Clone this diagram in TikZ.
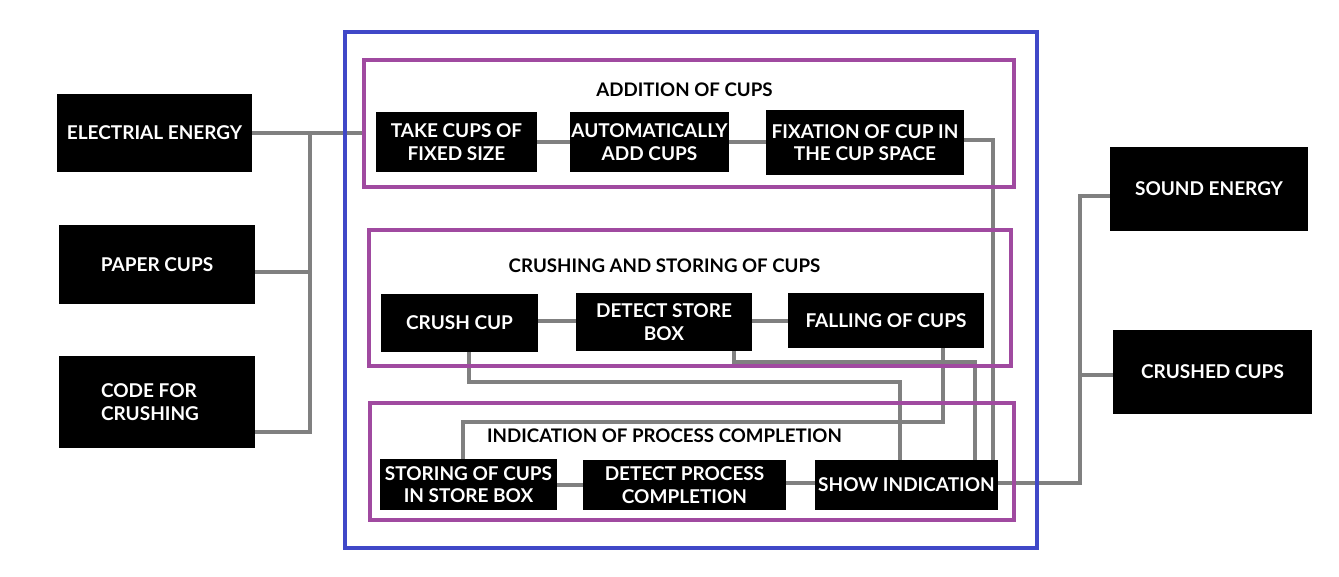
\documentclass[tikz,border=0pt]{standalone}
\usepackage{fontspec}
\setmainfont{Lato}
\usetikzlibrary{backgrounds}
\definecolor{frameblue}{RGB}{64,72,200}
\definecolor{framepurple}{RGB}{160,74,160}
\definecolor{conngray}{RGB}{128,128,128}
\begin{document}
\begin{tikzpicture}[x=1pt,y=-1pt,
  blk/.style={fill=black,text=white,inner sep=0pt,align=center,font=\bfseries\fontsize{19}{22.5}\selectfont},
  frm/.style={draw=framepurple,line width=4pt,inner sep=0pt},
  conn/.style={draw=conngray,line width=4pt},
  ttl/.style={font=\bfseries\fontsize{18.7}{20}\selectfont,inner sep=0pt,text=black}]
\useasboundingbox (0,0) rectangle (1339,576);

% outer and group frames
\node[draw=frameblue,line width=4pt,minimum width=692pt,minimum height=516pt] (outer) at (691,290) {};
\node[frm,minimum width=650pt,minimum height=127pt] (f1) at (689,123.5) {};
\node[frm,minimum width=642pt,minimum height=136pt] (f2) at (690,298) {};
\node[frm,minimum width=644pt,minimum height=117pt] (f3) at (692,461.5) {};

\node[ttl] (t1) at (684.5,90) {ADDITION OF CUPS};
\node[ttl] (t2) at (664.5,266) {CRUSHING AND STORING OF CUPS};
\node[ttl] (t3) at (664.5,436) {INDICATION OF PROCESS COMPLETION};

% left inputs
\node[blk,minimum width=195pt,minimum height=78pt] (ee) at (154.5,133) {ELECTRIAL ENERGY};
\node[blk,minimum width=196pt,minimum height=79pt] (pc) at (157,264.5) {PAPER CUPS};
\node[blk,minimum width=196pt,minimum height=92pt,align=left] (cfc) at (157,402) {\hspace*{-14pt}CODE FOR\\\hspace*{-14pt}CRUSHING};

% right outputs
\node[blk,minimum width=198pt,minimum height=84pt] (se) at (1209,189) {SOUND ENERGY};
\node[blk,minimum width=199pt,minimum height=84pt] (cc) at (1212.5,372) {CRUSHED CUPS};

% row 1
\node[blk,minimum width=161pt,minimum height=60pt] (take) at (456.5,142) {TAKE CUPS OF\\FIXED SIZE};
\node[blk,minimum width=159pt,minimum height=60pt] (auto) at (649.5,142) {AUTOMATICALLY\\ADD CUPS};
\node[blk,minimum width=198pt,minimum height=65pt] (fix) at (865,142.5) {FIXATION OF CUP IN\\THE CUP SPACE};

% row 2
\node[blk,minimum width=157pt,minimum height=58pt] (crush) at (459.5,323) {CRUSH CUP};
\node[blk,minimum width=176pt,minimum height=58pt] (dsb) at (664,322) {DETECT STORE\\BOX};
\node[blk,minimum width=196pt,minimum height=55pt] (fall) at (886,320.5) {FALLING OF CUPS};

% row 3
\node[blk,minimum width=177pt,minimum height=51pt] (stor) at (468.5,484.5) {STORING OF CUPS\\IN STORE BOX};
\node[blk,minimum width=203pt,minimum height=50pt] (dpc) at (684.5,485) {DETECT PROCESS\\COMPLETION};
\node[blk,minimum width=183pt,minimum height=50pt] (show) at (906.5,485) {SHOW INDICATION};

\coordinate (jl) at (310,133);
\coordinate (jr) at (1080,196);
\coordinate (ccw) at ([yshift=-3pt]cc.west);

\begin{scope}[on background layer]
  % inputs
  \draw[conn] (ee.east) -- (f1.west |- ee.east);
  \draw[conn] ([yshift=-7.5pt]pc.east) -| (jl);
  \draw[conn] ([yshift=-30pt]cfc.east) -| (jl);
  % outputs
  \draw[conn] ([yshift=2pt]show.east) -| (jr) -- ([yshift=-7pt]se.west);
  \draw[conn] (ccw) -- (ccw -| jr);
  % rows
  \draw[conn] (take.east) -- (auto.west |- take.east);
  \draw[conn] (auto.east) -- (fix.west |- auto.east);
  \draw[conn] ([yshift=2pt]crush.east) -- ([yshift=2pt]crush.east -| dsb.west);
  \draw[conn] ([yshift=1pt]dsb.east) -- ([yshift=1pt]dsb.east -| fall.west);
  \draw[conn] (stor.east) -- (dpc.west |- stor.east);
  \draw[conn] ([yshift=2pt]dpc.east) -- ([yshift=2pt]dpc.east -| show.west);
  % cross links
  \draw[conn] ([yshift=2.5pt]fix.east) -| ([xshift=86.5pt]show.north);
  \draw[conn] ([xshift=70pt]dsb.south) -- ++(0,11) -| ([xshift=68pt]show.north);
  \draw[conn] ([xshift=57pt]fall.south) -- ++(0,74) -| ([xshift=-5.5pt]stor.north);
  \draw[conn] ([xshift=9.5pt]crush.south) -- ++(0,30) -| ([xshift=-6.5pt]show.north);
\end{scope}
\end{tikzpicture}
\end{document}
